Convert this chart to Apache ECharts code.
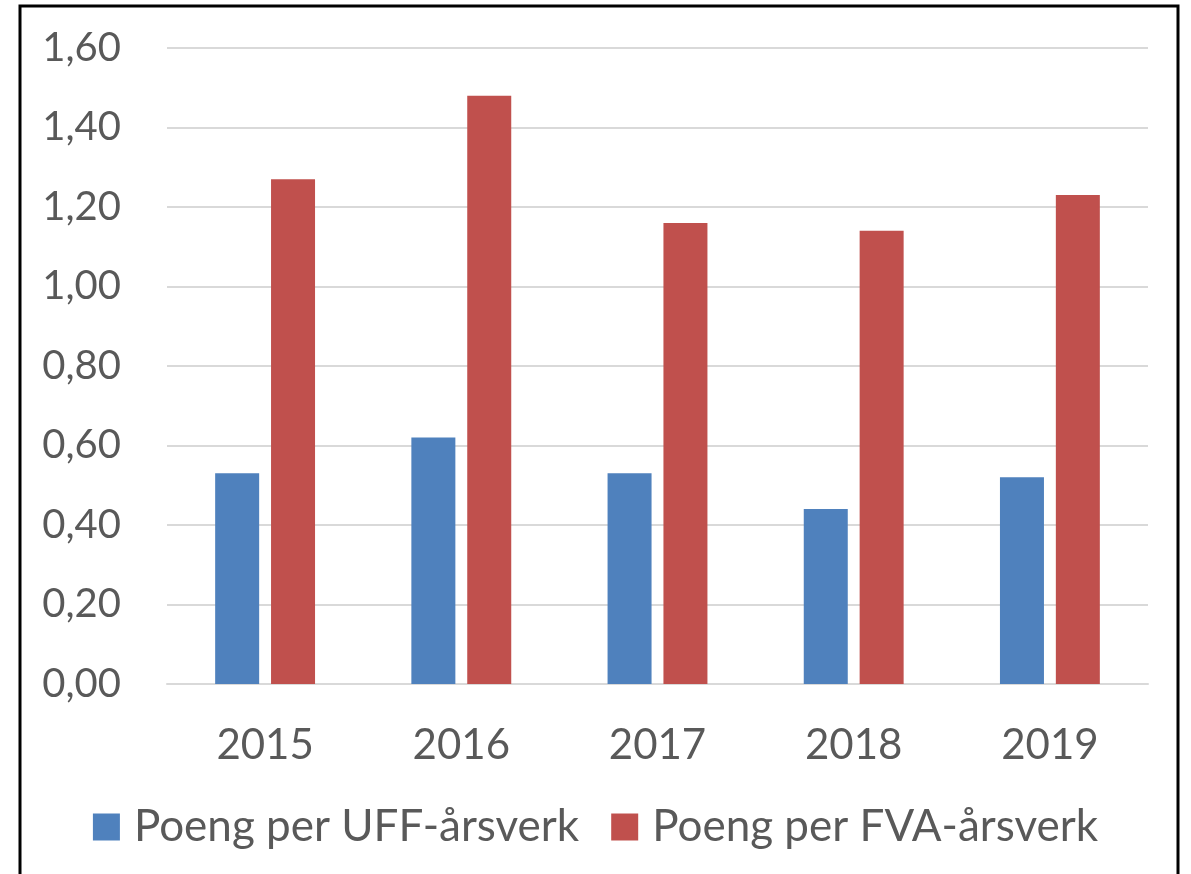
<!DOCTYPE html>
<html>
<head>
<meta charset="utf-8">
<script src="https://cdn.jsdelivr.net/npm/echarts@6/dist/echarts.min.js"></script>
<style>
  html, body { margin: 0; padding: 0; background: #fff; }
  #chart { width: 1191px; height: 874px; }
</style>
</head>
<body>
<div id="chart"></div>
<script>
// data
const years = ['2015', '2016', '2017', '2018', '2019'];
const uffValues = [0.53, 0.62, 0.53, 0.44, 0.52];
const fvaValues = [1.27, 1.48, 1.16, 1.14, 1.23];
const seriesNames = ['Poeng per UFF-årsverk', 'Poeng per FVA-årsverk'];

const textColor = '#595959';
const fontFamily = 'Lato, "Open Sans", sans-serif';

const chart = echarts.init(document.getElementById('chart'));

chart.setOption({
    animation: false,
    textStyle: { fontFamily: fontFamily },
    graphic: [{
        type: 'rect',
        shape: { x: 20, y: 6, width: 1158, height: 900 },
        style: { fill: 'none', stroke: '#000', lineWidth: 3 },
        silent: true
    }],
    grid: {
        left: 167,
        right: 43,
        top: 48,
        bottom: 190
    },
    legend: {
        bottom: 20,
        left: 'center',
        itemWidth: 27,
        itemHeight: 27,
        itemGap: 32,
        icon: 'rect',
        textStyle: {
            color: textColor,
            fontSize: 44,
            fontFamily: fontFamily,
            padding: [0, 0, 0, 9]
        },
        data: seriesNames
    },
    xAxis: {
        type: 'category',
        data: years,
        axisLine: { show: true, lineStyle: { color: '#D9D9D9', width: 2 } },
        axisTick: { show: false },
        axisLabel: {
            color: textColor,
            fontSize: 42,
            margin: 40
        }
    },
    yAxis: {
        type: 'value',
        min: 0,
        max: 1.6,
        interval: 0.2,
        axisLine: { show: false },
        axisTick: { show: false },
        splitLine: { lineStyle: { color: '#D9D9D9', width: 2 } },
        axisLabel: {
            color: textColor,
            fontSize: 40,
            margin: 46,
            formatter: (val) => val.toFixed(2).replace('.', ',')
        }
    },
    series: [{
        name: seriesNames[0],
        type: 'bar',
        data: uffValues,
        barWidth: 44,
        barGap: '27%',
        itemStyle: { color: '#4F81BD' }
    }, {
        name: seriesNames[1],
        type: 'bar',
        data: fvaValues,
        barWidth: 44,
        itemStyle: { color: '#C0504D' }
    }]
});
</script>
</body>
</html>
